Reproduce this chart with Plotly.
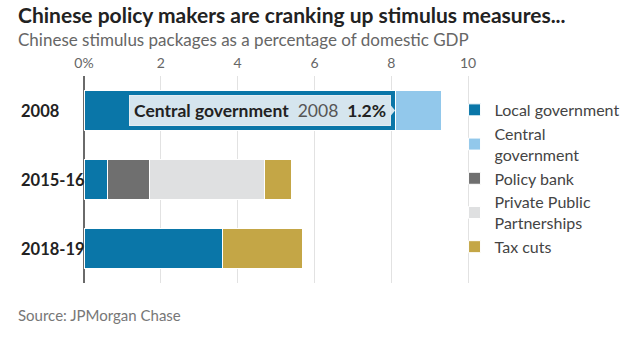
import plotly.graph_objects as go

# Stimulus packages as a share of domestic GDP (%)
periods = ["2008", "2015-16", "2018-19"]
series_names = ["Local government", "Central government", "Policy bank",
                "Private Public Partnerships", "Tax cuts"]
legend_labels = ["Local government", "Central<br>government", "Policy bank",
                 "Private Public<br>Partnerships", "Tax cuts"]
local_gov = [8.1, 0.6, 3.6]
central_gov = [1.2, 0, 0]
policy_bank = [0, 1.1, 0]
ppp = [0, 3.0, 0]
tax_cuts = [0, 0.7, 2.1]
series_colors = ["#0a76a8", "#92c8eb", "#6f6f6f", "#dfe0e1", "#c4a646"]

tick_vals = [0, 2, 4, 6, 8, 10]
tick_text = ["0%", "2", "4", "6", "8", "10"]

FONT = "Lato"

fig = go.Figure()
for name, label, vals, color in zip(series_names, legend_labels,
                                    [local_gov, central_gov, policy_bank, ppp, tax_cuts],
                                    series_colors):
    fig.add_trace(go.Bar(
        y=periods, x=vals, orientation="h", name=label,
        marker=dict(color=color, line=dict(color="white", width=1)),
        hoverinfo="skip",
    ))

# Hover-style callout on the central government segment of 2008
hl_idx = 0
hl_value = central_gov[hl_idx]
hl_left = local_gov[hl_idx]
fig.add_annotation(
    x=hl_left, y=hl_idx, xref="x", yref="y",
    xanchor="right", yanchor="middle", xshift=-4, showarrow=False,
    text=("<b>Central government</b>\u00a0\u00a0"
          f"<span style='color:#555'>{periods[hl_idx]}</span>\u00a0\u00a0"
          f"<b>{hl_value:.1f}%</b>"),
    font=dict(family=FONT, size=17.5, color="#222"),
    bgcolor="#d5e5ee", bordercolor="#e4ecf1", borderwidth=1, borderpad=4,
)
fig.add_shape(
    type="path", xref="x", yref="y",
    xsizemode="pixel", ysizemode="pixel",
    xanchor=hl_left, yanchor=hl_idx,
    path="M-5,-6 L0,0 L-5,6 Z",
    fillcolor="#d5e5ee", line=dict(width=0), layer="above",
)

# Left-aligned period labels
for i, p in enumerate(periods):
    fig.add_annotation(
        x=-0.168, y=i, xref="paper", yref="y", xanchor="left", yanchor="middle",
        text=f"<b>{p}</b>", showarrow=False,
        font=dict(family=FONT, size=16.5, color="#222"),
    )

fig.add_annotation(
    x=-0.176, y=1.296, xref="paper", yref="paper", xanchor="left", yanchor="middle",
    text="<b>Chinese policy makers are cranking up stimulus measures...</b>",
    showarrow=False, font=dict(family=FONT, size=21, color="#222"),
)
fig.add_annotation(
    x=-0.176, y=1.176, xref="paper", yref="paper", xanchor="left", yanchor="middle",
    text="Chinese stimulus packages as a percentage of domestic GDP",
    showarrow=False, font=dict(family=FONT, size=17, color="#666"),
)
fig.add_annotation(
    x=-0.176, y=-0.154, xref="paper", yref="paper", xanchor="left", yanchor="middle",
    text="Source: JPMorgan Chase",
    showarrow=False, font=dict(family=FONT, size=15, color="#777"),
)

fig.update_layout(
    width=640, height=342,
    margin=dict(l=84, r=170, t=75.5, b=59),
    barmode="stack", bargap=0.406,
    plot_bgcolor="white", paper_bgcolor="white",
    font=dict(family=FONT, color="#555"),
    showlegend=True,
    legend=dict(
        x=0.96, y=0.918, xanchor="left", yanchor="top",
        font=dict(family=FONT, size=16, color="#444"),
        tracegroupgap=0, itemclick=False, traceorder="normal",
        bgcolor="rgba(0,0,0,0)",
    ),
    xaxis=dict(
        side="top", range=[0, 10.05], tickvals=tick_vals, ticktext=tick_text,
        showgrid=True, gridcolor="#e2e2e2", gridwidth=1,
        zeroline=True, zerolinecolor="#6a6a6a", zerolinewidth=1.5,
        tickfont=dict(family=FONT, size=14, color="#666"),
        ticks="", ticklabelstandoff=4, fixedrange=True,
    ),
    yaxis=dict(
        type="category", categoryorder="array", categoryarray=periods,
        range=[len(periods) - 0.5, -0.5], showticklabels=False, showgrid=False,
        zeroline=False, fixedrange=True,
    ),
)

fig.write_html("out.html")
